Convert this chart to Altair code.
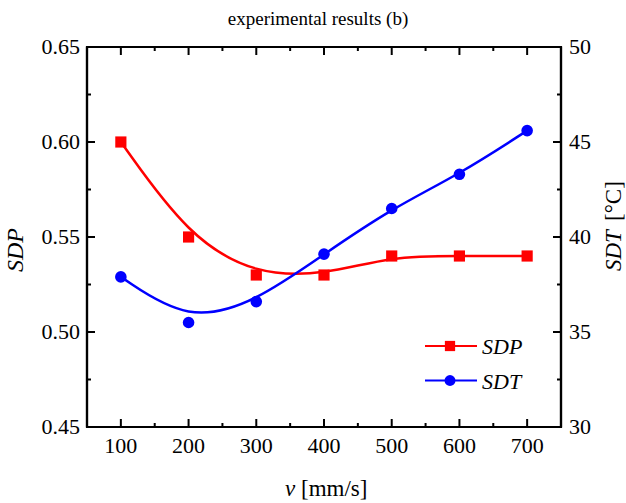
import altair as alt
import pandas as pd

# ---- data ----
v = [100, 200, 300, 400, 500, 600, 700]
sdp = [0.60, 0.55, 0.53, 0.53, 0.54, 0.54, 0.54]
sdt = [37.9, 35.5, 36.6, 39.1, 41.5, 43.3, 45.6]

x_major = [100, 200, 300, 400, 500, 600, 700]
x_minor = [150, 250, 350, 450, 550, 650]
yl_major = [0.50, 0.55, 0.60]
yl_minor = [0.475, 0.525, 0.575, 0.625]
yr_major = [35, 40, 45]
yr_minor = [32.5, 37.5, 42.5, 47.5]
yl_labels = [0.45, 0.50, 0.55, 0.60, 0.65]
yr_labels = [30, 35, 40, 45, 50]
x_range = [50, 750]
yl_range = [0.45, 0.65]
yr_range = [30, 50]

FONT = "Liberation Serif"
RED = "#ff0000"
BLUE = "#0000ff"
W, H = 474, 380

df = pd.DataFrame({"v": v, "SDP": sdp, "SDT": sdt})

xs = alt.Scale(domain=x_range, nice=False, zero=False)
yl = alt.Scale(domain=yl_range, nice=False, zero=False)
yr = alt.Scale(domain=yr_range, nice=False, zero=False)

X = alt.X("v:Q", scale=xs, axis=None)
base = alt.Chart(df)

sdp_line = base.mark_line(color=RED, strokeWidth=2.5, interpolate="basis").encode(
    x=X, y=alt.Y("SDP:Q", scale=yl, axis=None))
sdp_pts = base.mark_point(shape="square", filled=True, size=125, color=RED, opacity=1).encode(
    x=X, y=alt.Y("SDP:Q", scale=yl, axis=None))
sdt_line = base.mark_line(color=BLUE, strokeWidth=2.5, interpolate="basis").encode(
    x=X, y=alt.Y("SDT:Q", scale=yr, axis=None))
sdt_pts = base.mark_point(shape="circle", filled=True, size=135, color=BLUE, opacity=1).encode(
    x=X, y=alt.Y("SDT:Q", scale=yr, axis=None))

# ---- frame: four rules placed through the scales ----
fdf = pd.DataFrame({"x0": [x_range[0]], "x1": [x_range[1]],
                    "y0": [yl_range[0]], "y1": [yl_range[1]]})
fb = alt.Chart(fdf)
FX0 = alt.X("x0:Q", scale=xs, axis=None)
FX1 = alt.X("x1:Q", scale=xs, axis=None)
FY0 = alt.Y("y0:Q", scale=yl, axis=None)
FY1 = alt.Y("y1:Q", scale=yl, axis=None)
frame = [
    fb.mark_rule(stroke="black", strokeWidth=2.2).encode(x=FX0, x2=alt.X2("x1"), y=FY0),
    fb.mark_rule(stroke="black", strokeWidth=2.2).encode(x=FX0, x2=alt.X2("x1"), y=FY1),
    fb.mark_rule(stroke="black", strokeWidth=2.2).encode(y=FY0, y2=alt.Y2("y1"), x=FX0),
    fb.mark_rule(stroke="black", strokeWidth=2.2).encode(y=FY0, y2=alt.Y2("y1"), x=FX1),
]

# ---- inward ticks ----
def xticks(vals, length):
    d = alt.Chart(pd.DataFrame({"v": vals}))
    bottom = d.mark_rule(color="black", strokeWidth=2).encode(
        x=X, y=alt.value(H), y2=alt.value(H - length))
    top = d.mark_rule(color="black", strokeWidth=2).encode(
        x=X, y=alt.value(0), y2=alt.value(length))
    return [bottom, top]

def yticks(vals, scale, left, length):
    d = alt.Chart(pd.DataFrame({"t": vals}))
    if left:
        xa, xb = 0, length
    else:
        xa, xb = W, W - length
    return d.mark_rule(color="black", strokeWidth=2).encode(
        y=alt.Y("t:Q", scale=scale, axis=None), x=alt.value(xa), x2=alt.value(xb))

tick_layers = (xticks(x_major, 8) + xticks(x_minor, 4) +
               [yticks(yl_major, yl, True, 8), yticks(yl_minor, yl, True, 4),
                yticks(yr_major, yr, False, 8), yticks(yr_minor, yr, False, 4)])

# ---- tick labels ----
xlab = alt.Chart(pd.DataFrame({"v": x_major, "s": [str(t) for t in x_major]})).mark_text(
    font=FONT, fontSize=22, color="black", align="center", baseline="alphabetic").encode(
    x=X, y=alt.value(H + 26), text="s:N")
yllab = alt.Chart(pd.DataFrame({"t": yl_labels, "s": [f"{t:.2f}" for t in yl_labels]})).mark_text(
    font=FONT, fontSize=22, color="black", align="right", baseline="middle").encode(
    y=alt.Y("t:Q", scale=yl, axis=None), x=alt.value(-7), text="s:N")
yrlab = alt.Chart(pd.DataFrame({"t": yr_labels, "s": [str(t) for t in yr_labels]})).mark_text(
    font=FONT, fontSize=22, color="black", align="left", baseline="middle").encode(
    y=alt.Y("t:Q", scale=yr, axis=None), x=alt.value(W + 8), text="s:N")

# ---- titles (mixed italic / roman) ----
def txt(s, x, y, size=22, style="normal", angle=0, align="left", baseline="alphabetic"):
    return alt.Chart(pd.DataFrame({"s": [s]})).mark_text(
        font=FONT, fontSize=size, fontStyle=style, angle=angle, align=align,
        baseline=baseline, color="black").encode(
        text="s:N", x=alt.value(x), y=alt.value(y))

titles = [
    txt("experimental results (b)", 231, -22, size=19, align="center"),
    txt("v", 198, 449, size=23, style="italic"),
    txt("[mm/s]", 214, 449, size=23),
    txt("SDP", -71, 203, size=24, style="italic", angle=270, align="center", baseline="middle"),
    txt("SDT", 527, 224, size=23, style="italic", angle=270, align="left", baseline="middle"),
    txt("[°C]", 527, 174, size=23, angle=270, align="left", baseline="middle"),
]

# ---- legend ----
def legend_entry(label, color, shape, y):
    d = alt.Chart(pd.DataFrame({"label": [label]}))
    r = d.mark_rule(color=color, strokeWidth=2.2).encode(
        x=alt.value(338), x2=alt.value(390), y=alt.value(y))
    p = d.mark_point(shape=shape, filled=True, size=105 if shape == "square" else 120,
                     color=color, opacity=1).encode(x=alt.value(363), y=alt.value(y))
    t = d.mark_text(font=FONT, fontSize=22, fontStyle="italic", align="left",
                    baseline="middle", color="black").encode(
        text="label:N", x=alt.value(395), y=alt.value(y + 1))
    return [r, p, t]

legend_layers = legend_entry("SDP", RED, "square", 299) + legend_entry("SDT", BLUE, "circle", 333.5)

chart = alt.layer(
    *frame, sdp_line, sdt_line, sdp_pts, sdt_pts, *tick_layers,
    xlab, yllab, yrlab, *titles, *legend_layers
).resolve_scale(y="independent").properties(
    width=W, height=H,
    autosize=alt.AutoSizeParams(type="none"),
    padding={"left": 87, "top": 47, "right": 65, "bottom": 76},
).configure(
    background="white",
    view=alt.ViewConfig(stroke="black", strokeWidth=2.2, strokeOpacity=1),
)

chart.save("out.html", embed_options={"renderer": "svg", "actions": False})
